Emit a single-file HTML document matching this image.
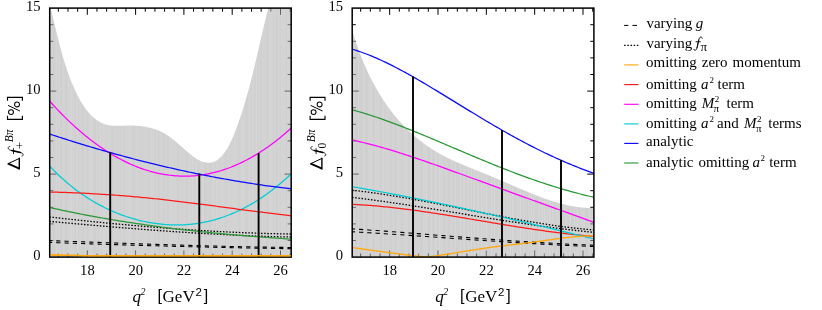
<!DOCTYPE html>
<html><head><meta charset="utf-8"><title>chart</title><style>html,body{margin:0;padding:0;background:#fff;}body{width:822px;height:310px;overflow:hidden;font-family:"Liberation Serif",serif;}</style></head><body>
<svg width="822" height="310" viewBox="0 0 822 310" style="display:block">
<defs>
<pattern id="st1" patternUnits="userSpaceOnUse" x="49.7" y="0" width="241.5" height="310"><rect x="0" y="0" width="241.5" height="310" fill="#acacac" fill-opacity="0.56"/><rect x="1.5" y="0" width="0.8" height="310" fill="#ffffff" fill-opacity="0.16"/><rect x="5.9" y="0" width="1.2" height="310" fill="#ffffff" fill-opacity="0.16"/><rect x="8.9" y="0" width="1.0" height="310" fill="#ffffff" fill-opacity="0.16"/><rect x="13.3" y="0" width="1.0" height="310" fill="#ffffff" fill-opacity="0.16"/><rect x="18.5" y="0" width="1.2" height="310" fill="#ffffff" fill-opacity="0.16"/><rect x="20.9" y="0" width="1.2" height="310" fill="#ffffff" fill-opacity="0.16"/><rect x="23.3" y="0" width="1.0" height="310" fill="#ffffff" fill-opacity="0.16"/><rect x="26.9" y="0" width="1.2" height="310" fill="#ffffff" fill-opacity="0.16"/><rect x="29.9" y="0" width="0.8" height="310" fill="#ffffff" fill-opacity="0.16"/><rect x="35.1" y="0" width="1.0" height="310" fill="#ffffff" fill-opacity="0.16"/><rect x="39.5" y="0" width="1.2" height="310" fill="#ffffff" fill-opacity="0.16"/><rect x="41.9" y="0" width="1.0" height="310" fill="#ffffff" fill-opacity="0.16"/><rect x="47.1" y="0" width="0.8" height="310" fill="#ffffff" fill-opacity="0.16"/><rect x="50.1" y="0" width="1.2" height="310" fill="#ffffff" fill-opacity="0.16"/><rect x="53.1" y="0" width="1.2" height="310" fill="#ffffff" fill-opacity="0.16"/><rect x="55.5" y="0" width="1.2" height="310" fill="#ffffff" fill-opacity="0.16"/><rect x="57.9" y="0" width="1.2" height="310" fill="#ffffff" fill-opacity="0.16"/><rect x="60.3" y="0" width="0.8" height="310" fill="#ffffff" fill-opacity="0.16"/><rect x="64.7" y="0" width="0.8" height="310" fill="#ffffff" fill-opacity="0.16"/><rect x="68.3" y="0" width="0.8" height="310" fill="#ffffff" fill-opacity="0.16"/><rect x="71.9" y="0" width="1.0" height="310" fill="#ffffff" fill-opacity="0.16"/><rect x="76.3" y="0" width="1.2" height="310" fill="#ffffff" fill-opacity="0.16"/><rect x="78.7" y="0" width="1.2" height="310" fill="#ffffff" fill-opacity="0.16"/><rect x="81.1" y="0" width="1.0" height="310" fill="#ffffff" fill-opacity="0.16"/><rect x="86.3" y="0" width="1.2" height="310" fill="#ffffff" fill-opacity="0.16"/><rect x="88.7" y="0" width="0.8" height="310" fill="#ffffff" fill-opacity="0.16"/><rect x="92.3" y="0" width="0.8" height="310" fill="#ffffff" fill-opacity="0.16"/><rect x="94.7" y="0" width="0.8" height="310" fill="#ffffff" fill-opacity="0.16"/><rect x="97.1" y="0" width="0.8" height="310" fill="#ffffff" fill-opacity="0.16"/><rect x="100.7" y="0" width="1.2" height="310" fill="#ffffff" fill-opacity="0.16"/><rect x="103.1" y="0" width="1.2" height="310" fill="#ffffff" fill-opacity="0.16"/><rect x="106.7" y="0" width="1.0" height="310" fill="#ffffff" fill-opacity="0.16"/><rect x="111.1" y="0" width="1.0" height="310" fill="#ffffff" fill-opacity="0.16"/><rect x="115.5" y="0" width="1.0" height="310" fill="#ffffff" fill-opacity="0.16"/><rect x="119.9" y="0" width="1.2" height="310" fill="#ffffff" fill-opacity="0.16"/><rect x="122.3" y="0" width="1.2" height="310" fill="#ffffff" fill-opacity="0.16"/><rect x="125.3" y="0" width="1.0" height="310" fill="#ffffff" fill-opacity="0.16"/><rect x="130.5" y="0" width="0.8" height="310" fill="#ffffff" fill-opacity="0.16"/><rect x="134.1" y="0" width="1.2" height="310" fill="#ffffff" fill-opacity="0.16"/><rect x="139.3" y="0" width="1.2" height="310" fill="#ffffff" fill-opacity="0.16"/><rect x="142.3" y="0" width="1.2" height="310" fill="#ffffff" fill-opacity="0.16"/><rect x="145.9" y="0" width="1.2" height="310" fill="#ffffff" fill-opacity="0.16"/><rect x="150.3" y="0" width="1.2" height="310" fill="#ffffff" fill-opacity="0.16"/><rect x="152.7" y="0" width="1.2" height="310" fill="#ffffff" fill-opacity="0.16"/><rect x="157.9" y="0" width="0.8" height="310" fill="#ffffff" fill-opacity="0.16"/><rect x="163.1" y="0" width="1.2" height="310" fill="#ffffff" fill-opacity="0.16"/><rect x="166.7" y="0" width="1.0" height="310" fill="#ffffff" fill-opacity="0.16"/><rect x="169.1" y="0" width="0.8" height="310" fill="#ffffff" fill-opacity="0.16"/><rect x="171.5" y="0" width="1.2" height="310" fill="#ffffff" fill-opacity="0.16"/><rect x="173.9" y="0" width="0.8" height="310" fill="#ffffff" fill-opacity="0.16"/><rect x="177.5" y="0" width="0.8" height="310" fill="#ffffff" fill-opacity="0.16"/><rect x="179.9" y="0" width="0.8" height="310" fill="#ffffff" fill-opacity="0.16"/><rect x="182.3" y="0" width="1.0" height="310" fill="#ffffff" fill-opacity="0.16"/><rect x="184.7" y="0" width="1.0" height="310" fill="#ffffff" fill-opacity="0.16"/><rect x="187.1" y="0" width="0.8" height="310" fill="#ffffff" fill-opacity="0.16"/><rect x="191.5" y="0" width="1.2" height="310" fill="#ffffff" fill-opacity="0.16"/><rect x="193.9" y="0" width="1.0" height="310" fill="#ffffff" fill-opacity="0.16"/><rect x="199.1" y="0" width="1.2" height="310" fill="#ffffff" fill-opacity="0.16"/><rect x="202.7" y="0" width="1.2" height="310" fill="#ffffff" fill-opacity="0.16"/><rect x="206.3" y="0" width="1.2" height="310" fill="#ffffff" fill-opacity="0.16"/><rect x="209.3" y="0" width="0.8" height="310" fill="#ffffff" fill-opacity="0.16"/><rect x="212.9" y="0" width="0.8" height="310" fill="#ffffff" fill-opacity="0.16"/><rect x="215.3" y="0" width="0.8" height="310" fill="#ffffff" fill-opacity="0.16"/><rect x="219.7" y="0" width="1.2" height="310" fill="#ffffff" fill-opacity="0.16"/><rect x="222.1" y="0" width="0.8" height="310" fill="#ffffff" fill-opacity="0.16"/><rect x="224.5" y="0" width="1.0" height="310" fill="#ffffff" fill-opacity="0.16"/><rect x="228.9" y="0" width="1.0" height="310" fill="#ffffff" fill-opacity="0.16"/><rect x="231.9" y="0" width="1.2" height="310" fill="#ffffff" fill-opacity="0.16"/><rect x="234.3" y="0" width="1.0" height="310" fill="#ffffff" fill-opacity="0.16"/><rect x="237.9" y="0" width="1.0" height="310" fill="#ffffff" fill-opacity="0.16"/><rect x="240.9" y="0" width="1.0" height="310" fill="#ffffff" fill-opacity="0.16"/></pattern>
<pattern id="st2" patternUnits="userSpaceOnUse" x="352.2" y="0" width="241.7" height="310"><rect x="0" y="0" width="241.7" height="310" fill="#acacac" fill-opacity="0.56"/><rect x="1.5" y="0" width="1.0" height="310" fill="#ffffff" fill-opacity="0.16"/><rect x="5.9" y="0" width="1.0" height="310" fill="#ffffff" fill-opacity="0.16"/><rect x="11.1" y="0" width="1.2" height="310" fill="#ffffff" fill-opacity="0.16"/><rect x="16.3" y="0" width="1.2" height="310" fill="#ffffff" fill-opacity="0.16"/><rect x="18.7" y="0" width="1.2" height="310" fill="#ffffff" fill-opacity="0.16"/><rect x="23.1" y="0" width="1.0" height="310" fill="#ffffff" fill-opacity="0.16"/><rect x="25.5" y="0" width="1.2" height="310" fill="#ffffff" fill-opacity="0.16"/><rect x="30.7" y="0" width="1.2" height="310" fill="#ffffff" fill-opacity="0.16"/><rect x="33.7" y="0" width="1.0" height="310" fill="#ffffff" fill-opacity="0.16"/><rect x="36.1" y="0" width="1.0" height="310" fill="#ffffff" fill-opacity="0.16"/><rect x="40.5" y="0" width="1.0" height="310" fill="#ffffff" fill-opacity="0.16"/><rect x="44.9" y="0" width="1.0" height="310" fill="#ffffff" fill-opacity="0.16"/><rect x="47.3" y="0" width="1.0" height="310" fill="#ffffff" fill-opacity="0.16"/><rect x="51.7" y="0" width="1.0" height="310" fill="#ffffff" fill-opacity="0.16"/><rect x="54.1" y="0" width="1.0" height="310" fill="#ffffff" fill-opacity="0.16"/><rect x="58.5" y="0" width="1.2" height="310" fill="#ffffff" fill-opacity="0.16"/><rect x="63.7" y="0" width="0.8" height="310" fill="#ffffff" fill-opacity="0.16"/><rect x="66.1" y="0" width="1.2" height="310" fill="#ffffff" fill-opacity="0.16"/><rect x="71.3" y="0" width="1.0" height="310" fill="#ffffff" fill-opacity="0.16"/><rect x="73.7" y="0" width="1.0" height="310" fill="#ffffff" fill-opacity="0.16"/><rect x="78.9" y="0" width="1.0" height="310" fill="#ffffff" fill-opacity="0.16"/><rect x="83.3" y="0" width="1.2" height="310" fill="#ffffff" fill-opacity="0.16"/><rect x="86.9" y="0" width="1.2" height="310" fill="#ffffff" fill-opacity="0.16"/><rect x="89.3" y="0" width="0.8" height="310" fill="#ffffff" fill-opacity="0.16"/><rect x="93.7" y="0" width="0.8" height="310" fill="#ffffff" fill-opacity="0.16"/><rect x="98.9" y="0" width="0.8" height="310" fill="#ffffff" fill-opacity="0.16"/><rect x="102.5" y="0" width="1.0" height="310" fill="#ffffff" fill-opacity="0.16"/><rect x="107.7" y="0" width="1.0" height="310" fill="#ffffff" fill-opacity="0.16"/><rect x="111.3" y="0" width="1.2" height="310" fill="#ffffff" fill-opacity="0.16"/><rect x="115.7" y="0" width="1.0" height="310" fill="#ffffff" fill-opacity="0.16"/><rect x="118.7" y="0" width="1.0" height="310" fill="#ffffff" fill-opacity="0.16"/><rect x="121.7" y="0" width="1.0" height="310" fill="#ffffff" fill-opacity="0.16"/><rect x="125.3" y="0" width="1.2" height="310" fill="#ffffff" fill-opacity="0.16"/><rect x="128.9" y="0" width="1.0" height="310" fill="#ffffff" fill-opacity="0.16"/><rect x="131.3" y="0" width="0.8" height="310" fill="#ffffff" fill-opacity="0.16"/><rect x="133.7" y="0" width="1.2" height="310" fill="#ffffff" fill-opacity="0.16"/><rect x="138.9" y="0" width="1.2" height="310" fill="#ffffff" fill-opacity="0.16"/><rect x="141.9" y="0" width="1.0" height="310" fill="#ffffff" fill-opacity="0.16"/><rect x="146.3" y="0" width="0.8" height="310" fill="#ffffff" fill-opacity="0.16"/><rect x="151.5" y="0" width="1.0" height="310" fill="#ffffff" fill-opacity="0.16"/><rect x="154.5" y="0" width="1.0" height="310" fill="#ffffff" fill-opacity="0.16"/><rect x="157.5" y="0" width="1.2" height="310" fill="#ffffff" fill-opacity="0.16"/><rect x="159.9" y="0" width="1.2" height="310" fill="#ffffff" fill-opacity="0.16"/><rect x="165.1" y="0" width="0.8" height="310" fill="#ffffff" fill-opacity="0.16"/><rect x="167.5" y="0" width="1.2" height="310" fill="#ffffff" fill-opacity="0.16"/><rect x="171.1" y="0" width="1.0" height="310" fill="#ffffff" fill-opacity="0.16"/><rect x="176.3" y="0" width="0.8" height="310" fill="#ffffff" fill-opacity="0.16"/><rect x="178.7" y="0" width="0.8" height="310" fill="#ffffff" fill-opacity="0.16"/><rect x="181.1" y="0" width="1.0" height="310" fill="#ffffff" fill-opacity="0.16"/><rect x="186.3" y="0" width="1.2" height="310" fill="#ffffff" fill-opacity="0.16"/><rect x="189.3" y="0" width="1.2" height="310" fill="#ffffff" fill-opacity="0.16"/><rect x="191.7" y="0" width="1.0" height="310" fill="#ffffff" fill-opacity="0.16"/><rect x="194.7" y="0" width="0.8" height="310" fill="#ffffff" fill-opacity="0.16"/><rect x="197.1" y="0" width="1.2" height="310" fill="#ffffff" fill-opacity="0.16"/><rect x="200.1" y="0" width="1.0" height="310" fill="#ffffff" fill-opacity="0.16"/><rect x="204.5" y="0" width="0.8" height="310" fill="#ffffff" fill-opacity="0.16"/><rect x="208.1" y="0" width="1.0" height="310" fill="#ffffff" fill-opacity="0.16"/><rect x="213.3" y="0" width="0.8" height="310" fill="#ffffff" fill-opacity="0.16"/><rect x="217.7" y="0" width="1.0" height="310" fill="#ffffff" fill-opacity="0.16"/><rect x="222.1" y="0" width="0.8" height="310" fill="#ffffff" fill-opacity="0.16"/><rect x="224.5" y="0" width="1.0" height="310" fill="#ffffff" fill-opacity="0.16"/><rect x="228.9" y="0" width="1.0" height="310" fill="#ffffff" fill-opacity="0.16"/><rect x="231.3" y="0" width="1.0" height="310" fill="#ffffff" fill-opacity="0.16"/><rect x="236.5" y="0" width="1.0" height="310" fill="#ffffff" fill-opacity="0.16"/><rect x="240.1" y="0" width="1.0" height="310" fill="#ffffff" fill-opacity="0.16"/></pattern>
<clipPath id="c1"><rect x="49.7" y="8.1" width="241.5" height="249.0"/></clipPath>
<clipPath id="c2"><rect x="352.2" y="8.1" width="241.7" height="249.0"/></clipPath>
</defs>
<rect width="822" height="310" fill="#fff"/>
<path d="M58.32,257.1 v-3.6 M58.32,8.1 v3.6 M67.98,257.1 v-3.6 M67.98,8.1 v3.6 M77.64,257.1 v-3.6 M77.64,8.1 v3.6 M87.30,257.1 v-6.7 M87.30,8.1 v6.7 M96.96,257.1 v-3.6 M96.96,8.1 v3.6 M106.62,257.1 v-3.6 M106.62,8.1 v3.6 M116.28,257.1 v-3.6 M116.28,8.1 v3.6 M125.94,257.1 v-3.6 M125.94,8.1 v3.6 M135.60,257.1 v-6.7 M135.60,8.1 v6.7 M145.26,257.1 v-3.6 M145.26,8.1 v3.6 M154.92,257.1 v-3.6 M154.92,8.1 v3.6 M164.58,257.1 v-3.6 M164.58,8.1 v3.6 M174.24,257.1 v-3.6 M174.24,8.1 v3.6 M183.90,257.1 v-6.7 M183.90,8.1 v6.7 M193.56,257.1 v-3.6 M193.56,8.1 v3.6 M203.22,257.1 v-3.6 M203.22,8.1 v3.6 M212.88,257.1 v-3.6 M212.88,8.1 v3.6 M222.54,257.1 v-3.6 M222.54,8.1 v3.6 M232.20,257.1 v-6.7 M232.20,8.1 v6.7 M241.86,257.1 v-3.6 M241.86,8.1 v3.6 M251.52,257.1 v-3.6 M251.52,8.1 v3.6 M261.18,257.1 v-3.6 M261.18,8.1 v3.6 M270.84,257.1 v-3.6 M270.84,8.1 v3.6 M280.50,257.1 v-6.7 M280.50,8.1 v6.7 M290.16,257.1 v-3.6 M290.16,8.1 v3.6 M49.7,240.50 h3.6 M291.2,240.50 h-3.6 M49.7,223.90 h3.6 M291.2,223.90 h-3.6 M49.7,207.30 h3.6 M291.2,207.30 h-3.6 M49.7,190.70 h3.6 M291.2,190.70 h-3.6 M49.7,174.10 h6.7 M291.2,174.10 h-6.7 M49.7,157.50 h3.6 M291.2,157.50 h-3.6 M49.7,140.90 h3.6 M291.2,140.90 h-3.6 M49.7,124.30 h3.6 M291.2,124.30 h-3.6 M49.7,107.70 h3.6 M291.2,107.70 h-3.6 M49.7,91.10 h6.7 M291.2,91.10 h-6.7 M49.7,74.50 h3.6 M291.2,74.50 h-3.6 M49.7,57.90 h3.6 M291.2,57.90 h-3.6 M49.7,41.30 h3.6 M291.2,41.30 h-3.6 M49.7,24.70 h3.6 M291.2,24.70 h-3.6" stroke="#000" stroke-width="1" fill="none"/>
<g clip-path="url(#c1)">
<path d="M49.89,5.41 L50.27,6.85 L50.64,8.29 L51.01,9.72 L51.37,11.15 L51.73,12.57 L52.09,13.99 L52.44,15.40 L52.79,16.80 L53.13,18.21 L53.47,19.60 L53.81,21.00 L54.15,22.38 L54.48,23.77 L54.82,25.15 L55.15,26.53 L55.48,27.90 L55.81,29.27 L56.14,30.64 L56.47,32.01 L56.80,33.37 L57.13,34.73 L57.46,36.08 L57.79,37.43 L58.13,38.79 L58.46,40.13 L58.80,41.48 L59.14,42.83 L59.48,44.17 L59.83,45.51 L60.18,46.85 L60.53,48.19 L60.89,49.53 L61.25,50.86 L61.61,52.20 L61.98,53.53 L62.35,54.87 L62.73,56.20 L63.12,57.53 L63.51,58.87 L63.91,60.20 L64.31,61.53 L64.72,62.87 L65.14,64.20 L65.57,65.53 L66.00,66.87 L66.45,68.21 L66.90,69.54 L67.35,70.88 L67.82,72.22 L68.30,73.56 L68.79,74.91 L69.28,76.25 L69.79,77.60 L70.31,78.94 L70.84,80.30 L71.38,81.65 L71.93,83.00 L72.49,84.36 L73.07,85.72 L73.65,87.09 L74.25,88.45 L74.87,89.81 L75.49,91.17 L76.13,92.52 L76.79,93.87 L77.45,95.21 L78.14,96.54 L78.83,97.87 L79.54,99.18 L80.27,100.47 L81.02,101.75 L81.77,103.02 L82.55,104.26 L83.34,105.49 L84.15,106.70 L84.98,107.88 L85.82,109.04 L86.68,110.17 L87.56,111.28 L88.46,112.35 L89.38,113.40 L90.31,114.41 L91.27,115.39 L92.24,116.34 L93.24,117.25 L94.25,118.12 L95.29,118.95 L96.35,119.75 L97.43,120.49 L98.52,121.20 L99.65,121.86 L100.79,122.47 L101.95,123.03 L103.14,123.54 L104.35,124.00 L105.59,124.41 L106.85,124.77 L108.13,125.06 L109.43,125.30 L110.76,125.49 L112.11,125.63 L113.48,125.73 L114.87,125.79 L116.27,125.83 L117.70,125.83 L119.13,125.81 L120.58,125.78 L122.04,125.74 L123.51,125.69 L124.98,125.64 L126.47,125.60 L127.96,125.56 L129.46,125.54 L130.96,125.54 L132.46,125.56 L133.96,125.61 L135.46,125.68 L136.95,125.77 L138.45,125.89 L139.93,126.03 L141.42,126.20 L142.89,126.39 L144.35,126.61 L145.81,126.86 L147.25,127.14 L148.67,127.44 L150.09,127.77 L151.48,128.12 L152.86,128.51 L154.22,128.92 L155.56,129.37 L156.87,129.84 L158.17,130.35 L159.43,130.88 L160.68,131.45 L161.89,132.05 L163.09,132.67 L164.26,133.33 L165.41,134.01 L166.55,134.72 L167.67,135.46 L168.78,136.21 L169.87,137.00 L170.96,137.80 L172.04,138.63 L173.11,139.47 L174.18,140.34 L175.25,141.22 L176.32,142.12 L177.38,143.03 L178.46,143.97 L179.54,144.91 L180.62,145.87 L181.72,146.84 L182.82,147.82 L183.94,148.81 L185.08,149.81 L186.23,150.82 L187.40,151.83 L188.59,152.83 L189.79,153.83 L191.01,154.80 L192.24,155.76 L193.48,156.68 L194.74,157.56 L196.01,158.39 L197.28,159.17 L198.57,159.90 L199.87,160.55 L201.17,161.13 L202.48,161.63 L203.79,162.04 L205.10,162.37 L206.40,162.60 L207.70,162.74 L208.98,162.79 L210.23,162.73 L211.47,162.57 L212.68,162.30 L213.85,161.92 L214.99,161.42 L216.09,160.83 L217.16,160.14 L218.19,159.37 L219.19,158.53 L220.16,157.62 L221.10,156.65 L222.02,155.64 L222.90,154.60 L223.75,153.52 L224.58,152.41 L225.38,151.27 L226.16,150.10 L226.91,148.90 L227.65,147.68 L228.36,146.44 L229.05,145.18 L229.72,143.89 L230.37,142.59 L231.00,141.27 L231.62,139.94 L232.22,138.60 L232.81,137.24 L233.39,135.87 L233.95,134.50 L234.50,133.12 L235.04,131.74 L235.57,130.35 L236.09,128.96 L236.61,127.58 L237.12,126.19 L237.62,124.81 L238.11,123.42 L238.60,122.04 L239.09,120.67 L239.56,119.29 L240.03,117.91 L240.49,116.54 L240.95,115.16 L241.40,113.79 L241.85,112.42 L242.29,111.05 L242.73,109.68 L243.16,108.31 L243.58,106.95 L244.00,105.58 L244.42,104.22 L244.83,102.85 L245.23,101.49 L245.63,100.13 L246.03,98.76 L246.42,97.40 L246.81,96.04 L247.20,94.68 L247.58,93.32 L247.95,91.97 L248.32,90.61 L248.69,89.25 L249.06,87.89 L249.42,86.53 L249.78,85.18 L250.13,83.82 L250.48,82.46 L250.83,81.11 L251.18,79.75 L251.52,78.40 L251.87,77.04 L252.20,75.68 L252.54,74.33 L252.88,72.97 L253.21,71.61 L253.54,70.25 L253.87,68.90 L254.19,67.54 L254.52,66.18 L254.84,64.82 L255.16,63.46 L255.48,62.10 L255.80,60.74 L256.12,59.38 L256.44,58.02 L256.76,56.66 L257.07,55.30 L257.39,53.93 L257.70,52.57 L258.02,51.20 L258.33,49.84 L258.65,48.47 L258.96,47.10 L259.28,45.73 L259.59,44.36 L259.91,42.99 L260.23,41.61 L260.54,40.24 L260.86,38.86 L261.18,37.49 L261.50,36.11 L261.82,34.73 L262.14,33.34 L262.46,31.96 L262.79,30.58 L263.11,29.19 L263.44,27.80 L263.77,26.41 L264.10,25.02 L264.43,23.63 L264.77,22.23 L265.11,20.83 L265.45,19.43 L265.79,18.03 L266.14,16.63 L266.49,15.22 L266.84,13.82 L267.19,12.41 L267.55,10.99 L267.91,9.58 L268.27,8.16 L268.64,6.74 L269.01,5.32 L291.2,5.32 L291.2,257.1 L49.7,257.1 Z" fill="url(#st1)"/>
</g>
<g clip-path="url(#c1)" fill="none" stroke-linecap="butt">
<path d="M49.30,240.59 L53.41,240.74 L57.52,240.89 L61.64,241.05 L65.75,241.20 L69.86,241.35 L73.97,241.50 L78.08,241.66 L82.19,241.81 L86.31,241.96 L90.42,242.11 L94.53,242.26 L98.64,242.41 L102.75,242.56 L106.87,242.70 L110.98,242.85 L115.09,243.00 L119.20,243.14 L123.31,243.29 L127.43,243.43 L131.54,243.57 L135.65,243.71 L139.76,243.85 L143.87,243.99 L147.98,244.13 L152.10,244.26 L156.21,244.39 L160.32,244.53 L164.43,244.66 L168.54,244.78 L172.66,244.91 L176.77,245.04 L180.88,245.16 L184.99,245.28 L189.10,245.40 L193.22,245.51 L197.33,245.63 L201.44,245.74 L205.55,245.85 L209.66,245.96 L213.77,246.06 L217.89,246.17 L222.00,246.27 L226.11,246.36 L230.22,246.46 L234.33,246.55 L238.45,246.64 L242.56,246.73 L246.67,246.81 L250.78,246.89 L254.89,246.97 L259.01,247.04 L263.12,247.11 L267.23,247.18 L271.34,247.25 L275.45,247.31 L279.56,247.36 L283.68,247.42 L287.79,247.47 L291.90,247.52" stroke="#000" stroke-width="1.1" stroke-dasharray="4.2 4.06" stroke-dashoffset="1.3"/>
<path d="M49.30,242.40 L53.41,242.55 L57.52,242.70 L61.64,242.84 L65.75,242.99 L69.86,243.13 L73.97,243.27 L78.08,243.42 L82.19,243.55 L86.31,243.69 L90.42,243.83 L94.53,243.96 L98.64,244.10 L102.75,244.23 L106.87,244.36 L110.98,244.49 L115.09,244.62 L119.20,244.74 L123.31,244.87 L127.43,244.99 L131.54,245.12 L135.65,245.24 L139.76,245.36 L143.87,245.47 L147.98,245.59 L152.10,245.71 L156.21,245.82 L160.32,245.93 L164.43,246.04 L168.54,246.15 L172.66,246.26 L176.77,246.37 L180.88,246.47 L184.99,246.57 L189.10,246.68 L193.22,246.78 L197.33,246.88 L201.44,246.97 L205.55,247.07 L209.66,247.16 L213.77,247.26 L217.89,247.35 L222.00,247.44 L226.11,247.53 L230.22,247.61 L234.33,247.70 L238.45,247.78 L242.56,247.86 L246.67,247.94 L250.78,248.02 L254.89,248.10 L259.01,248.18 L263.12,248.25 L267.23,248.33 L271.34,248.40 L275.45,248.47 L279.56,248.53 L283.68,248.60 L287.79,248.67 L291.90,248.73" stroke="#000" stroke-width="1.1" stroke-dasharray="4.2 4.06" stroke-dashoffset="1.3"/>
<path d="M49.30,216.94 L53.41,217.41 L57.52,217.87 L61.64,218.33 L65.75,218.78 L69.86,219.23 L73.97,219.67 L78.08,220.11 L82.19,220.54 L86.31,220.97 L90.42,221.39 L94.53,221.81 L98.64,222.22 L102.75,222.62 L106.87,223.03 L110.98,223.42 L115.09,223.81 L119.20,224.19 L123.31,224.57 L127.43,224.94 L131.54,225.31 L135.65,225.67 L139.76,226.02 L143.87,226.37 L147.98,226.71 L152.10,227.04 L156.21,227.37 L160.32,227.69 L164.43,228.01 L168.54,228.31 L172.66,228.61 L176.77,228.91 L180.88,229.20 L184.99,229.48 L189.10,229.75 L193.22,230.02 L197.33,230.28 L201.44,230.53 L205.55,230.77 L209.66,231.01 L213.77,231.24 L217.89,231.46 L222.00,231.67 L226.11,231.88 L230.22,232.08 L234.33,232.27 L238.45,232.45 L242.56,232.62 L246.67,232.79 L250.78,232.94 L254.89,233.09 L259.01,233.23 L263.12,233.37 L267.23,233.49 L271.34,233.60 L275.45,233.71 L279.56,233.81 L283.68,233.90 L287.79,233.98 L291.90,234.05" stroke="#000" stroke-width="1.3" stroke-dasharray="1.5 1.67"/>
<path d="M49.30,221.35 L53.41,221.73 L57.52,222.11 L61.64,222.48 L65.75,222.85 L69.86,223.22 L73.97,223.59 L78.08,223.96 L82.19,224.32 L86.31,224.69 L90.42,225.04 L94.53,225.40 L98.64,225.76 L102.75,226.11 L106.87,226.46 L110.98,226.80 L115.09,227.14 L119.20,227.48 L123.31,227.82 L127.43,228.15 L131.54,228.47 L135.65,228.80 L139.76,229.12 L143.87,229.43 L147.98,229.75 L152.10,230.05 L156.21,230.36 L160.32,230.66 L164.43,230.95 L168.54,231.24 L172.66,231.52 L176.77,231.80 L180.88,232.07 L184.99,232.34 L189.10,232.61 L193.22,232.86 L197.33,233.11 L201.44,233.36 L205.55,233.60 L209.66,233.84 L213.77,234.06 L217.89,234.28 L222.00,234.50 L226.11,234.71 L230.22,234.91 L234.33,235.11 L238.45,235.29 L242.56,235.48 L246.67,235.65 L250.78,235.82 L254.89,235.98 L259.01,236.13 L263.12,236.27 L267.23,236.41 L271.34,236.54 L275.45,236.66 L279.56,236.77 L283.68,236.88 L287.79,236.97 L291.90,237.06" stroke="#000" stroke-width="1.3" stroke-dasharray="1.5 1.67"/>
<path d="M49.30,207.43 L51.34,207.89 L53.38,208.34 L55.42,208.79 L57.45,209.23 L59.49,209.67 L61.53,210.10 L63.57,210.53 L65.61,210.96 L67.65,211.38 L69.69,211.80 L71.73,212.22 L73.76,212.63 L75.80,213.04 L77.84,213.44 L79.88,213.84 L81.92,214.24 L83.96,214.63 L86.00,215.02 L88.03,215.41 L90.07,215.79 L92.11,216.17 L94.15,216.54 L96.19,216.91 L98.23,217.28 L100.27,217.64 L102.31,218.00 L104.34,218.36 L106.38,218.71 L108.42,219.06 L110.46,219.41 L112.50,219.75 L114.54,220.09 L116.58,220.43 L118.61,220.76 L120.65,221.09 L122.69,221.41 L124.73,221.74 L126.77,222.05 L128.81,222.37 L130.85,222.68 L132.88,222.99 L134.92,223.30 L136.96,223.60 L139.00,223.90 L141.04,224.20 L143.08,224.49 L145.12,224.79 L147.16,225.07 L149.19,225.36 L151.23,225.64 L153.27,225.92 L155.31,226.19 L157.35,226.47 L159.39,226.74 L161.43,227.00 L163.46,227.27 L165.50,227.53 L167.54,227.79 L169.58,228.05 L171.62,228.30 L173.66,228.55 L175.70,228.80 L177.74,229.04 L179.77,229.28 L181.81,229.52 L183.85,229.76 L185.89,230.00 L187.93,230.23 L189.97,230.46 L192.01,230.68 L194.04,230.91 L196.08,231.13 L198.12,231.35 L200.16,231.57 L202.20,231.78 L204.24,231.99 L206.28,232.20 L208.32,232.41 L210.35,232.61 L212.39,232.82 L214.43,233.02 L216.47,233.22 L218.51,233.41 L220.55,233.60 L222.59,233.80 L224.62,233.99 L226.66,234.17 L228.70,234.36 L230.74,234.54 L232.78,234.72 L234.82,234.90 L236.86,235.08 L238.89,235.25 L240.93,235.42 L242.97,235.60 L245.01,235.76 L247.05,235.93 L249.09,236.10 L251.13,236.26 L253.17,236.42 L255.20,236.58 L257.24,236.74 L259.28,236.89 L261.32,237.05 L263.36,237.20 L265.40,237.35 L267.44,237.50 L269.47,237.65 L271.51,237.79 L273.55,237.94 L275.59,238.08 L277.63,238.22 L279.67,238.36 L281.71,238.50 L283.75,238.63 L285.78,238.77 L287.82,238.90 L289.86,239.03 L291.90,239.16" stroke="#2a9836" stroke-width="1.25"/>
<path d="M49.30,165.67 L51.34,167.83 L53.38,169.94 L55.42,171.99 L57.46,173.99 L59.50,175.93 L61.54,177.82 L63.58,179.66 L65.62,181.45 L67.66,183.20 L69.69,184.89 L71.73,186.54 L73.77,188.15 L75.81,189.71 L77.85,191.23 L79.89,192.71 L81.93,194.14 L83.97,195.54 L86.01,196.89 L88.05,198.21 L90.09,199.49 L92.13,200.73 L94.17,201.94 L96.21,203.11 L98.25,204.24 L100.29,205.34 L102.33,206.41 L104.37,207.44 L106.41,208.44 L108.45,209.41 L110.48,210.34 L112.52,211.25 L114.56,212.12 L116.60,212.96 L118.64,213.77 L120.68,214.55 L122.72,215.31 L124.76,216.03 L126.80,216.72 L128.84,217.39 L130.88,218.02 L132.92,218.63 L134.96,219.21 L137.00,219.76 L139.04,220.28 L141.08,220.78 L143.12,221.25 L145.16,221.69 L147.20,222.10 L149.24,222.48 L151.27,222.84 L153.31,223.17 L155.35,223.47 L157.39,223.74 L159.43,223.99 L161.47,224.21 L163.51,224.40 L165.55,224.56 L167.59,224.70 L169.63,224.81 L171.67,224.89 L173.71,224.94 L175.75,224.96 L177.79,224.96 L179.83,224.92 L181.87,224.86 L183.91,224.77 L185.95,224.65 L187.99,224.49 L190.03,224.31 L192.06,224.10 L194.10,223.87 L196.14,223.60 L198.18,223.30 L200.22,222.96 L202.26,222.60 L204.30,222.21 L206.34,221.79 L208.38,221.33 L210.42,220.85 L212.46,220.33 L214.50,219.78 L216.54,219.19 L218.58,218.58 L220.62,217.93 L222.66,217.25 L224.70,216.53 L226.74,215.78 L228.78,215.00 L230.82,214.19 L232.85,213.34 L234.89,212.45 L236.93,211.53 L238.97,210.58 L241.01,209.59 L243.05,208.57 L245.09,207.51 L247.13,206.41 L249.17,205.28 L251.21,204.12 L253.25,202.92 L255.29,201.68 L257.33,200.41 L259.37,199.10 L261.41,197.75 L263.45,196.37 L265.49,194.95 L267.53,193.49 L269.57,192.00 L271.61,190.47 L273.64,188.91 L275.68,187.31 L277.72,185.67 L279.76,184.00 L281.80,182.29 L283.84,180.54 L285.88,178.76 L287.92,176.94 L289.96,175.08 L292.00,173.19" stroke="#00cdd4" stroke-width="1.25"/>
<path d="M49.30,191.97 L51.34,192.02 L53.38,192.08 L55.42,192.14 L57.46,192.20 L59.50,192.26 L61.54,192.33 L63.58,192.40 L65.62,192.47 L67.66,192.54 L69.69,192.62 L71.73,192.70 L73.77,192.78 L75.81,192.87 L77.85,192.95 L79.89,193.05 L81.93,193.14 L83.97,193.24 L86.01,193.34 L88.05,193.44 L90.09,193.55 L92.13,193.66 L94.17,193.77 L96.21,193.89 L98.25,194.01 L100.29,194.14 L102.33,194.26 L104.37,194.39 L106.41,194.53 L108.45,194.66 L110.48,194.80 L112.52,194.95 L114.56,195.10 L116.60,195.25 L118.64,195.40 L120.68,195.56 L122.72,195.72 L124.76,195.88 L126.80,196.05 L128.84,196.22 L130.88,196.40 L132.92,196.57 L134.96,196.76 L137.00,196.94 L139.04,197.13 L141.08,197.32 L143.12,197.51 L145.16,197.71 L147.20,197.91 L149.24,198.12 L151.27,198.32 L153.31,198.53 L155.35,198.75 L157.39,198.96 L159.43,199.18 L161.47,199.40 L163.51,199.63 L165.55,199.85 L167.59,200.09 L169.63,200.32 L171.67,200.55 L173.71,200.79 L175.75,201.03 L177.79,201.28 L179.83,201.52 L181.87,201.77 L183.91,202.02 L185.95,202.27 L187.99,202.52 L190.03,202.78 L192.06,203.04 L194.10,203.30 L196.14,203.56 L198.18,203.82 L200.22,204.09 L202.26,204.35 L204.30,204.62 L206.34,204.89 L208.38,205.16 L210.42,205.43 L212.46,205.70 L214.50,205.98 L216.54,206.25 L218.58,206.53 L220.62,206.80 L222.66,207.08 L224.70,207.35 L226.74,207.63 L228.78,207.90 L230.82,208.18 L232.85,208.46 L234.89,208.73 L236.93,209.01 L238.97,209.28 L241.01,209.56 L243.05,209.83 L245.09,210.10 L247.13,210.37 L249.17,210.64 L251.21,210.91 L253.25,211.18 L255.29,211.44 L257.33,211.70 L259.37,211.96 L261.41,212.22 L263.45,212.48 L265.49,212.73 L267.53,212.99 L269.57,213.23 L271.61,213.48 L273.64,213.72 L275.68,213.96 L277.72,214.20 L279.76,214.43 L281.80,214.66 L283.84,214.88 L285.88,215.10 L287.92,215.32 L289.96,215.53 L292.00,215.73" stroke="#ff1a1a" stroke-width="1.25"/>
<path d="M49.30,100.70 L51.34,102.97 L53.38,105.21 L55.42,107.42 L57.46,109.58 L59.50,111.72 L61.54,113.81 L63.58,115.87 L65.62,117.89 L67.66,119.88 L69.69,121.83 L71.73,123.75 L73.77,125.63 L75.81,127.47 L77.85,129.28 L79.89,131.06 L81.93,132.80 L83.97,134.50 L86.01,136.17 L88.05,137.81 L90.09,139.41 L92.13,140.98 L94.17,142.51 L96.21,144.01 L98.25,145.47 L100.29,146.90 L102.33,148.30 L104.37,149.66 L106.41,150.98 L108.45,152.28 L110.48,153.53 L112.52,154.76 L114.56,155.95 L116.60,157.11 L118.64,158.23 L120.68,159.32 L122.72,160.37 L124.76,161.39 L126.80,162.38 L128.84,163.33 L130.88,164.25 L132.92,165.14 L134.96,165.99 L137.00,166.80 L139.04,167.59 L141.08,168.34 L143.12,169.05 L145.16,169.73 L147.20,170.38 L149.24,170.99 L151.27,171.57 L153.31,172.12 L155.35,172.63 L157.39,173.11 L159.43,173.55 L161.47,173.96 L163.51,174.33 L165.55,174.67 L167.59,174.98 L169.63,175.25 L171.67,175.49 L173.71,175.69 L175.75,175.86 L177.79,175.99 L179.83,176.09 L181.87,176.16 L183.91,176.19 L185.95,176.18 L187.99,176.14 L190.03,176.07 L192.06,175.96 L194.10,175.82 L196.14,175.64 L198.18,175.43 L200.22,175.18 L202.26,174.89 L204.30,174.58 L206.34,174.22 L208.38,173.83 L210.42,173.41 L212.46,172.95 L214.50,172.46 L216.54,171.93 L218.58,171.37 L220.62,170.77 L222.66,170.13 L224.70,169.46 L226.74,168.75 L228.78,168.01 L230.82,167.24 L232.85,166.42 L234.89,165.58 L236.93,164.69 L238.97,163.78 L241.01,162.82 L243.05,161.83 L245.09,160.81 L247.13,159.75 L249.17,158.65 L251.21,157.52 L253.25,156.35 L255.29,155.15 L257.33,153.91 L259.37,152.63 L261.41,151.33 L263.45,149.98 L265.49,148.60 L267.53,147.18 L269.57,145.73 L271.61,144.25 L273.64,142.72 L275.68,141.17 L277.72,139.57 L279.76,137.95 L281.80,136.28 L283.84,134.58 L285.88,132.85 L287.92,131.08 L289.96,129.28 L292.00,127.44" stroke="#ff00ff" stroke-width="1.25"/>
<path d="M49.30,133.91 L51.34,134.58 L53.38,135.25 L55.42,135.92 L57.46,136.58 L59.50,137.24 L61.54,137.90 L63.58,138.56 L65.62,139.21 L67.66,139.85 L69.69,140.50 L71.73,141.14 L73.77,141.78 L75.81,142.41 L77.85,143.04 L79.89,143.67 L81.93,144.29 L83.97,144.91 L86.01,145.53 L88.05,146.14 L90.09,146.75 L92.13,147.36 L94.17,147.96 L96.21,148.56 L98.25,149.15 L100.29,149.74 L102.33,150.33 L104.37,150.92 L106.41,151.50 L108.45,152.08 L110.48,152.65 L112.52,153.22 L114.56,153.79 L116.60,154.35 L118.64,154.91 L120.68,155.47 L122.72,156.02 L124.76,156.57 L126.80,157.12 L128.84,157.66 L130.88,158.20 L132.92,158.74 L134.96,159.27 L137.00,159.80 L139.04,160.32 L141.08,160.84 L143.12,161.36 L145.16,161.87 L147.20,162.38 L149.24,162.89 L151.27,163.39 L153.31,163.89 L155.35,164.39 L157.39,164.88 L159.43,165.37 L161.47,165.85 L163.51,166.33 L165.55,166.81 L167.59,167.28 L169.63,167.75 L171.67,168.22 L173.71,168.68 L175.75,169.14 L177.79,169.59 L179.83,170.04 L181.87,170.49 L183.91,170.93 L185.95,171.37 L187.99,171.81 L190.03,172.24 L192.06,172.67 L194.10,173.10 L196.14,173.52 L198.18,173.93 L200.22,174.35 L202.26,174.76 L204.30,175.16 L206.34,175.57 L208.38,175.96 L210.42,176.36 L212.46,176.75 L214.50,177.14 L216.54,177.52 L218.58,177.90 L220.62,178.27 L222.66,178.64 L224.70,179.01 L226.74,179.38 L228.78,179.74 L230.82,180.09 L232.85,180.44 L234.89,180.79 L236.93,181.14 L238.97,181.48 L241.01,181.81 L243.05,182.15 L245.09,182.48 L247.13,182.80 L249.17,183.12 L251.21,183.44 L253.25,183.75 L255.29,184.06 L257.33,184.37 L259.37,184.67 L261.41,184.96 L263.45,185.26 L265.49,185.55 L267.53,185.83 L269.57,186.11 L271.61,186.39 L273.64,186.67 L275.68,186.93 L277.72,187.20 L279.76,187.46 L281.80,187.72 L283.84,187.97 L285.88,188.22 L287.92,188.47 L289.96,188.71 L292.00,188.95" stroke="#0c0cff" stroke-width="1.25"/>
<path d="M49.30,254.99 L53.41,255.08 L57.53,255.16 L61.64,255.25 L65.75,255.32 L69.87,255.40 L73.98,255.47 L78.09,255.54 L82.21,255.61 L86.32,255.66 L90.44,255.70 L94.55,255.73 L98.66,255.76 L102.78,255.78 L106.89,255.80 L111.00,255.80 L115.12,255.80 L119.23,255.80 L123.34,255.80 L127.46,255.80 L131.57,255.80 L135.68,255.80 L139.80,255.80 L143.91,255.80 L148.03,255.80 L152.14,255.80 L156.25,255.80 L160.37,255.80 L164.48,255.80 L168.59,255.80 L172.71,255.80 L176.82,255.80 L180.93,255.80 L185.05,255.80 L189.16,255.80 L193.27,255.80 L197.39,255.80 L201.50,255.80 L205.62,255.80 L209.73,255.80 L213.84,255.80 L217.96,255.80 L222.07,255.80 L226.18,255.80 L230.30,255.80 L234.41,255.80 L238.52,255.80 L242.64,255.80 L246.75,255.80 L250.86,255.80 L254.98,255.80 L259.09,255.80 L263.21,255.80 L267.32,255.80 L271.43,255.80 L275.55,255.80 L279.66,255.80 L283.77,255.80 L287.89,255.80 L292.00,255.80" stroke="#ffa810" stroke-width="1.35"/>
</g>
<path d="M110.20,257.1 V152.30" stroke="#000" stroke-width="1.9" fill="none"/>
<path d="M199.30,257.1 V173.60" stroke="#000" stroke-width="1.9" fill="none"/>
<path d="M258.60,257.1 V153.10" stroke="#000" stroke-width="1.9" fill="none"/>
<rect x="49.7" y="8.1" width="241.50" height="249.00" fill="none" stroke="#000" stroke-width="1.5"/>
<path d="M360.65,257.1 v-3.6 M360.65,8.1 v3.6 M370.31,257.1 v-3.6 M370.31,8.1 v3.6 M379.98,257.1 v-3.6 M379.98,8.1 v3.6 M389.65,257.1 v-6.7 M389.65,8.1 v6.7 M399.32,257.1 v-3.6 M399.32,8.1 v3.6 M408.99,257.1 v-3.6 M408.99,8.1 v3.6 M418.65,257.1 v-3.6 M418.65,8.1 v3.6 M428.32,257.1 v-3.6 M428.32,8.1 v3.6 M437.99,257.1 v-6.7 M437.99,8.1 v6.7 M447.66,257.1 v-3.6 M447.66,8.1 v3.6 M457.33,257.1 v-3.6 M457.33,8.1 v3.6 M466.99,257.1 v-3.6 M466.99,8.1 v3.6 M476.66,257.1 v-3.6 M476.66,8.1 v3.6 M486.33,257.1 v-6.7 M486.33,8.1 v6.7 M496.00,257.1 v-3.6 M496.00,8.1 v3.6 M505.67,257.1 v-3.6 M505.67,8.1 v3.6 M515.33,257.1 v-3.6 M515.33,8.1 v3.6 M525.00,257.1 v-3.6 M525.00,8.1 v3.6 M534.67,257.1 v-6.7 M534.67,8.1 v6.7 M544.34,257.1 v-3.6 M544.34,8.1 v3.6 M554.01,257.1 v-3.6 M554.01,8.1 v3.6 M563.67,257.1 v-3.6 M563.67,8.1 v3.6 M573.34,257.1 v-3.6 M573.34,8.1 v3.6 M583.01,257.1 v-6.7 M583.01,8.1 v6.7 M592.68,257.1 v-3.6 M592.68,8.1 v3.6 M352.2,240.50 h3.6 M593.9,240.50 h-3.6 M352.2,223.90 h3.6 M593.9,223.90 h-3.6 M352.2,207.30 h3.6 M593.9,207.30 h-3.6 M352.2,190.70 h3.6 M593.9,190.70 h-3.6 M352.2,174.10 h6.7 M593.9,174.10 h-6.7 M352.2,157.50 h3.6 M593.9,157.50 h-3.6 M352.2,140.90 h3.6 M593.9,140.90 h-3.6 M352.2,124.30 h3.6 M593.9,124.30 h-3.6 M352.2,107.70 h3.6 M593.9,107.70 h-3.6 M352.2,91.10 h6.7 M593.9,91.10 h-6.7 M352.2,74.50 h3.6 M593.9,74.50 h-3.6 M352.2,57.90 h3.6 M593.9,57.90 h-3.6 M352.2,41.30 h3.6 M593.9,41.30 h-3.6 M352.2,24.70 h3.6 M593.9,24.70 h-3.6" stroke="#000" stroke-width="1" fill="none"/>
<g clip-path="url(#c2)">
<path d="M352.77,32.21 L353.07,33.22 L353.38,34.22 L353.69,35.23 L354.01,36.24 L354.33,37.24 L354.65,38.25 L354.98,39.25 L355.31,40.25 L355.64,41.26 L355.98,42.26 L356.32,43.26 L356.66,44.27 L357.01,45.27 L357.36,46.27 L357.71,47.27 L358.07,48.27 L358.43,49.27 L358.80,50.27 L359.16,51.26 L359.54,52.26 L359.91,53.26 L360.29,54.25 L360.67,55.24 L361.06,56.24 L361.45,57.23 L361.85,58.22 L362.24,59.21 L362.65,60.19 L363.05,61.18 L363.46,62.16 L363.88,63.15 L364.29,64.13 L364.72,65.11 L365.14,66.09 L365.57,67.06 L366.00,68.04 L366.44,69.01 L366.88,69.98 L367.33,70.95 L367.78,71.92 L368.23,72.89 L368.69,73.85 L369.15,74.82 L369.61,75.78 L370.08,76.73 L370.56,77.69 L371.04,78.64 L371.52,79.60 L372.01,80.55 L372.50,81.49 L372.99,82.44 L373.49,83.38 L374.00,84.32 L374.50,85.26 L375.02,86.19 L375.53,87.12 L376.06,88.05 L376.58,88.98 L377.11,89.90 L377.65,90.83 L378.19,91.74 L378.73,92.66 L379.28,93.57 L379.83,94.48 L380.39,95.39 L380.95,96.29 L381.52,97.19 L382.09,98.09 L382.66,98.99 L383.24,99.88 L383.83,100.76 L384.42,101.65 L385.01,102.53 L385.61,103.41 L386.22,104.28 L386.82,105.15 L387.44,106.02 L388.06,106.88 L388.68,107.74 L389.31,108.60 L389.94,109.45 L390.58,110.30 L391.22,111.14 L391.87,111.98 L392.52,112.82 L393.18,113.65 L393.84,114.48 L394.51,115.31 L395.18,116.13 L395.86,116.94 L396.54,117.75 L397.23,118.56 L397.92,119.37 L398.62,120.16 L399.32,120.96 L400.03,121.75 L400.75,122.53 L401.46,123.32 L402.19,124.09 L402.92,124.86 L403.65,125.63 L404.39,126.39 L405.13,127.15 L405.88,127.90 L406.64,128.65 L407.39,129.39 L408.16,130.13 L408.93,130.87 L409.70,131.59 L410.48,132.32 L411.26,133.03 L412.04,133.75 L412.84,134.45 L413.63,135.16 L414.43,135.85 L415.23,136.54 L416.04,137.23 L416.86,137.91 L417.67,138.58 L418.50,139.25 L419.32,139.92 L420.15,140.57 L420.98,141.23 L421.82,141.87 L422.66,142.51 L423.51,143.15 L424.36,143.78 L425.21,144.40 L426.07,145.02 L426.93,145.63 L427.80,146.23 L428.67,146.83 L429.54,147.42 L430.41,148.01 L431.29,148.59 L432.18,149.16 L433.06,149.73 L433.95,150.29 L434.85,150.84 L435.74,151.39 L436.64,151.93 L437.55,152.47 L438.45,153.00 L439.36,153.52 L440.28,154.03 L441.19,154.54 L442.11,155.04 L443.03,155.54 L443.96,156.03 L444.89,156.51 L445.82,156.99 L446.75,157.46 L447.69,157.93 L448.62,158.39 L449.57,158.84 L450.51,159.30 L451.46,159.75 L452.40,160.19 L453.36,160.63 L454.31,161.06 L455.26,161.50 L456.22,161.93 L457.18,162.35 L458.14,162.77 L459.11,163.19 L460.07,163.61 L461.04,164.02 L462.01,164.44 L462.98,164.85 L463.95,165.25 L464.93,165.66 L465.90,166.06 L466.88,166.47 L467.86,166.87 L468.84,167.27 L469.82,167.67 L470.81,168.07 L471.79,168.47 L472.78,168.87 L473.76,169.27 L474.75,169.67 L475.74,170.07 L476.73,170.46 L477.72,170.86 L478.71,171.26 L479.70,171.66 L480.70,172.06 L481.69,172.46 L482.68,172.86 L483.68,173.26 L484.67,173.66 L485.67,174.06 L486.67,174.46 L487.66,174.87 L488.66,175.27 L489.65,175.68 L490.65,176.09 L491.65,176.50 L492.65,176.91 L493.64,177.32 L494.64,177.73 L495.64,178.15 L496.63,178.56 L497.63,178.98 L498.63,179.40 L499.62,179.82 L500.62,180.25 L501.61,180.67 L502.61,181.10 L503.60,181.53 L504.60,181.96 L505.59,182.39 L506.59,182.82 L507.58,183.25 L508.58,183.68 L509.57,184.11 L510.57,184.54 L511.56,184.97 L512.55,185.40 L513.55,185.84 L514.54,186.27 L515.54,186.70 L516.53,187.13 L517.53,187.56 L518.52,187.99 L519.52,188.41 L520.51,188.84 L521.50,189.27 L522.50,189.69 L523.50,190.11 L524.49,190.53 L525.49,190.95 L526.48,191.37 L527.48,191.78 L528.47,192.20 L529.47,192.61 L530.47,193.02 L531.46,193.42 L532.46,193.82 L533.46,194.22 L534.46,194.62 L535.45,195.02 L536.45,195.41 L537.45,195.79 L538.45,196.18 L539.45,196.56 L540.45,196.94 L541.45,197.31 L542.45,197.68 L543.45,198.04 L544.46,198.40 L545.46,198.76 L546.46,199.11 L547.46,199.46 L548.47,199.80 L549.47,200.14 L550.48,200.47 L551.48,200.80 L552.49,201.12 L553.50,201.43 L554.51,201.74 L555.51,202.05 L556.52,202.35 L557.53,202.64 L558.54,202.93 L559.55,203.21 L560.57,203.48 L561.58,203.75 L562.59,204.01 L563.61,204.27 L564.62,204.51 L565.64,204.75 L566.65,204.99 L567.67,205.21 L568.69,205.43 L569.71,205.64 L570.73,205.85 L571.75,206.04 L572.77,206.23 L573.79,206.41 L574.82,206.58 L575.84,206.74 L576.87,206.90 L577.89,207.04 L578.92,207.18 L579.95,207.31 L580.98,207.43 L582.01,207.54 L583.04,207.64 L584.08,207.73 L585.11,207.81 L586.15,207.89 L587.18,207.95 L588.22,208.00 L589.26,208.04 L590.30,208.08 L591.34,208.10 L592.38,208.11 L593.43,208.11 L593.9,208.11 L593.9,257.1 L352.2,257.1 Z" fill="url(#st2)"/>
</g>
<g clip-path="url(#c2)" fill="none" stroke-linecap="butt">
<path d="M352.10,228.87 L356.21,229.15 L360.31,229.42 L364.42,229.70 L368.53,229.99 L372.63,230.28 L376.74,230.57 L380.85,230.86 L384.95,231.16 L389.06,231.47 L393.17,231.77 L397.27,232.08 L401.38,232.39 L405.49,232.70 L409.59,233.02 L413.70,233.34 L417.81,233.65 L421.92,233.97 L426.02,234.29 L430.13,234.61 L434.24,234.93 L438.34,235.26 L442.45,235.58 L446.56,235.90 L450.66,236.22 L454.77,236.54 L458.88,236.86 L462.98,237.18 L467.09,237.49 L471.20,237.81 L475.30,238.12 L479.41,238.43 L483.52,238.74 L487.62,239.04 L491.73,239.34 L495.84,239.64 L499.94,239.94 L504.05,240.23 L508.16,240.52 L512.26,240.80 L516.37,241.08 L520.48,241.36 L524.58,241.63 L528.69,241.89 L532.80,242.15 L536.91,242.41 L541.01,242.65 L545.12,242.90 L549.23,243.13 L553.33,243.36 L557.44,243.58 L561.55,243.80 L565.65,244.01 L569.76,244.21 L573.87,244.40 L577.97,244.59 L582.08,244.76 L586.19,244.93 L590.29,245.09 L594.40,245.24" stroke="#000" stroke-width="1.1" stroke-dasharray="4.2 4.06" stroke-dashoffset="1.3"/>
<path d="M352.10,231.75 L356.21,231.98 L360.31,232.22 L364.42,232.46 L368.53,232.71 L372.63,232.96 L376.74,233.22 L380.85,233.47 L384.95,233.74 L389.06,234.00 L393.17,234.27 L397.27,234.54 L401.38,234.82 L405.49,235.09 L409.59,235.37 L413.70,235.65 L417.81,235.93 L421.92,236.22 L426.02,236.50 L430.13,236.79 L434.24,237.07 L438.34,237.36 L442.45,237.65 L446.56,237.94 L450.66,238.22 L454.77,238.51 L458.88,238.80 L462.98,239.08 L467.09,239.37 L471.20,239.65 L475.30,239.93 L479.41,240.21 L483.52,240.49 L487.62,240.77 L491.73,241.04 L495.84,241.32 L499.94,241.58 L504.05,241.85 L508.16,242.11 L512.26,242.37 L516.37,242.63 L520.48,242.88 L524.58,243.13 L528.69,243.37 L532.80,243.61 L536.91,243.85 L541.01,244.08 L545.12,244.30 L549.23,244.52 L553.33,244.73 L557.44,244.94 L561.55,245.14 L565.65,245.33 L569.76,245.52 L573.87,245.70 L577.97,245.88 L582.08,246.05 L586.19,246.21 L590.29,246.36 L594.40,246.50" stroke="#000" stroke-width="1.1" stroke-dasharray="4.2 4.06" stroke-dashoffset="1.3"/>
<path d="M352.10,190.27 L356.21,190.71 L360.31,191.19 L364.42,191.69 L368.53,192.21 L372.63,192.76 L376.74,193.33 L380.85,193.92 L384.95,194.54 L389.06,195.17 L393.17,195.83 L397.27,196.50 L401.38,197.19 L405.49,197.90 L409.59,198.62 L413.70,199.35 L417.81,200.10 L421.92,200.86 L426.02,201.63 L430.13,202.41 L434.24,203.20 L438.34,203.99 L442.45,204.80 L446.56,205.61 L450.66,206.42 L454.77,207.24 L458.88,208.06 L462.98,208.88 L467.09,209.71 L471.20,210.53 L475.30,211.35 L479.41,212.17 L483.52,212.99 L487.62,213.80 L491.73,214.60 L495.84,215.40 L499.94,216.20 L504.05,216.98 L508.16,217.75 L512.26,218.52 L516.37,219.27 L520.48,220.01 L524.58,220.73 L528.69,221.44 L532.80,222.14 L536.91,222.82 L541.01,223.48 L545.12,224.12 L549.23,224.75 L553.33,225.35 L557.44,225.93 L561.55,226.49 L565.65,227.02 L569.76,227.53 L573.87,228.01 L577.97,228.47 L582.08,228.89 L586.19,229.29 L590.29,229.66 L594.40,230.00" stroke="#000" stroke-width="1.3" stroke-dasharray="1.5 1.67"/>
<path d="M352.10,197.35 L356.21,197.85 L360.31,198.36 L364.42,198.88 L368.53,199.41 L372.63,199.96 L376.74,200.52 L380.85,201.08 L384.95,201.66 L389.06,202.25 L393.17,202.85 L397.27,203.46 L401.38,204.07 L405.49,204.69 L409.59,205.32 L413.70,205.96 L417.81,206.60 L421.92,207.25 L426.02,207.91 L430.13,208.56 L434.24,209.23 L438.34,209.89 L442.45,210.56 L446.56,211.23 L450.66,211.90 L454.77,212.58 L458.88,213.25 L462.98,213.93 L467.09,214.60 L471.20,215.27 L475.30,215.95 L479.41,216.62 L483.52,217.28 L487.62,217.95 L491.73,218.61 L495.84,219.26 L499.94,219.92 L504.05,220.56 L508.16,221.20 L512.26,221.84 L516.37,222.47 L520.48,223.09 L524.58,223.70 L528.69,224.30 L532.80,224.90 L536.91,225.48 L541.01,226.06 L545.12,226.62 L549.23,227.17 L553.33,227.71 L557.44,228.24 L561.55,228.76 L565.65,229.26 L569.76,229.75 L573.87,230.23 L577.97,230.69 L582.08,231.13 L586.19,231.56 L590.29,231.97 L594.40,232.36" stroke="#000" stroke-width="1.3" stroke-dasharray="1.5 1.67"/>
<path d="M352.10,204.31 L354.14,204.41 L356.17,204.52 L358.21,204.64 L360.24,204.76 L362.28,204.89 L364.32,205.03 L366.35,205.17 L368.39,205.32 L370.43,205.48 L372.46,205.64 L374.50,205.82 L376.53,205.99 L378.57,206.18 L380.61,206.37 L382.64,206.56 L384.68,206.77 L386.71,206.97 L388.75,207.19 L390.79,207.41 L392.82,207.63 L394.86,207.86 L396.89,208.10 L398.93,208.34 L400.97,208.58 L403.00,208.83 L405.04,209.09 L407.08,209.35 L409.11,209.61 L411.15,209.88 L413.18,210.15 L415.22,210.43 L417.26,210.71 L419.29,210.99 L421.33,211.28 L423.36,211.57 L425.40,211.87 L427.44,212.17 L429.47,212.47 L431.51,212.78 L433.55,213.08 L435.58,213.39 L437.62,213.71 L439.65,214.02 L441.69,214.34 L443.73,214.66 L445.76,214.99 L447.80,215.31 L449.83,215.64 L451.87,215.97 L453.91,216.30 L455.94,216.63 L457.98,216.97 L460.02,217.30 L462.05,217.64 L464.09,217.98 L466.12,218.32 L468.16,218.66 L470.20,219.00 L472.23,219.34 L474.27,219.68 L476.30,220.02 L478.34,220.37 L480.38,220.71 L482.41,221.05 L484.45,221.39 L486.48,221.74 L488.52,222.08 L490.56,222.42 L492.59,222.76 L494.63,223.10 L496.67,223.44 L498.70,223.78 L500.74,224.12 L502.77,224.46 L504.81,224.79 L506.85,225.12 L508.88,225.46 L510.92,225.79 L512.95,226.12 L514.99,226.44 L517.03,226.77 L519.06,227.09 L521.10,227.41 L523.14,227.73 L525.17,228.04 L527.21,228.35 L529.24,228.66 L531.28,228.97 L533.32,229.28 L535.35,229.58 L537.39,229.87 L539.42,230.17 L541.46,230.46 L543.50,230.74 L545.53,231.03 L547.57,231.31 L549.61,231.58 L551.64,231.85 L553.68,232.12 L555.71,232.38 L557.75,232.64 L559.79,232.89 L561.82,233.14 L563.86,233.38 L565.89,233.62 L567.93,233.86 L569.97,234.08 L572.00,234.31 L574.04,234.52 L576.07,234.73 L578.11,234.94 L580.15,235.14 L582.18,235.33 L584.22,235.52 L586.26,235.70 L588.29,235.88 L590.33,236.05 L592.36,236.21 L594.40,236.36" stroke="#ff1a1a" stroke-width="1.25"/>
<path d="M352.10,186.71 L354.14,187.05 L356.17,187.40 L358.21,187.75 L360.24,188.11 L362.28,188.46 L364.32,188.82 L366.35,189.18 L368.39,189.54 L370.43,189.90 L372.46,190.27 L374.50,190.63 L376.53,191.00 L378.57,191.37 L380.61,191.75 L382.64,192.12 L384.68,192.50 L386.71,192.88 L388.75,193.26 L390.79,193.64 L392.82,194.03 L394.86,194.42 L396.89,194.81 L398.93,195.20 L400.97,195.59 L403.00,195.98 L405.04,196.38 L407.08,196.78 L409.11,197.18 L411.15,197.58 L413.18,197.99 L415.22,198.39 L417.26,198.80 L419.29,199.21 L421.33,199.62 L423.36,200.03 L425.40,200.44 L427.44,200.86 L429.47,201.28 L431.51,201.69 L433.55,202.11 L435.58,202.54 L437.62,202.96 L439.65,203.38 L441.69,203.81 L443.73,204.24 L445.76,204.67 L447.80,205.10 L449.83,205.53 L451.87,205.97 L453.91,206.40 L455.94,206.84 L457.98,207.28 L460.02,207.72 L462.05,208.16 L464.09,208.60 L466.12,209.04 L468.16,209.49 L470.20,209.94 L472.23,210.38 L474.27,210.83 L476.30,211.28 L478.34,211.73 L480.38,212.19 L482.41,212.64 L484.45,213.10 L486.48,213.55 L488.52,214.01 L490.56,214.47 L492.59,214.93 L494.63,215.39 L496.67,215.85 L498.70,216.31 L500.74,216.78 L502.77,217.24 L504.81,217.71 L506.85,218.18 L508.88,218.64 L510.92,219.11 L512.95,219.58 L514.99,220.05 L517.03,220.53 L519.06,221.00 L521.10,221.47 L523.14,221.95 L525.17,222.42 L527.21,222.90 L529.24,223.38 L531.28,223.86 L533.32,224.34 L535.35,224.82 L537.39,225.30 L539.42,225.78 L541.46,226.26 L543.50,226.74 L545.53,227.23 L547.57,227.71 L549.61,228.20 L551.64,228.68 L553.68,229.17 L555.71,229.65 L557.75,230.14 L559.79,230.63 L561.82,231.12 L563.86,231.61 L565.89,232.10 L567.93,232.59 L569.97,233.08 L572.00,233.57 L574.04,234.06 L576.07,234.55 L578.11,235.05 L580.15,235.54 L582.18,236.03 L584.22,236.53 L586.26,237.02 L588.29,237.52 L590.33,238.01 L592.36,238.51 L594.40,239.01" stroke="#00cdd4" stroke-width="1.25"/>
<path d="M352.10,139.96 L354.14,140.40 L356.18,140.84 L358.21,141.31 L360.25,141.78 L362.29,142.26 L364.33,142.76 L366.36,143.27 L368.40,143.78 L370.44,144.31 L372.48,144.85 L374.52,145.39 L376.55,145.95 L378.59,146.52 L380.63,147.09 L382.67,147.67 L384.71,148.26 L386.74,148.86 L388.78,149.47 L390.82,150.08 L392.86,150.70 L394.89,151.33 L396.93,151.96 L398.97,152.60 L401.01,153.25 L403.05,153.90 L405.08,154.56 L407.12,155.22 L409.16,155.89 L411.20,156.57 L413.23,157.24 L415.27,157.93 L417.31,158.62 L419.35,159.31 L421.39,160.00 L423.42,160.70 L425.46,161.41 L427.50,162.12 L429.54,162.83 L431.57,163.54 L433.61,164.26 L435.65,164.98 L437.69,165.70 L439.73,166.42 L441.76,167.15 L443.80,167.88 L445.84,168.61 L447.88,169.34 L449.92,170.07 L451.95,170.81 L453.99,171.55 L456.03,172.29 L458.07,173.03 L460.10,173.77 L462.14,174.51 L464.18,175.25 L466.22,175.99 L468.26,176.74 L470.29,177.48 L472.33,178.23 L474.37,178.97 L476.41,179.72 L478.44,180.46 L480.48,181.21 L482.52,181.95 L484.56,182.70 L486.60,183.45 L488.63,184.19 L490.67,184.94 L492.71,185.68 L494.75,186.43 L496.78,187.17 L498.82,187.91 L500.86,188.66 L502.90,189.40 L504.94,190.14 L506.97,190.88 L509.01,191.63 L511.05,192.37 L513.09,193.11 L515.13,193.85 L517.16,194.59 L519.20,195.32 L521.24,196.06 L523.28,196.80 L525.31,197.54 L527.35,198.27 L529.39,199.01 L531.43,199.74 L533.47,200.48 L535.50,201.21 L537.54,201.94 L539.58,202.68 L541.62,203.41 L543.65,204.14 L545.69,204.88 L547.73,205.61 L549.77,206.34 L551.81,207.07 L553.84,207.80 L555.88,208.54 L557.92,209.27 L559.96,210.00 L561.99,210.73 L564.03,211.47 L566.07,212.20 L568.11,212.94 L570.15,213.67 L572.18,214.41 L574.22,215.15 L576.26,215.88 L578.30,216.62 L580.34,217.36 L582.37,218.11 L584.41,218.85 L586.45,219.60 L588.49,220.34 L590.52,221.09 L592.56,221.85 L594.60,222.60" stroke="#ff00ff" stroke-width="1.25"/>
<path d="M352.10,109.84 L354.14,110.39 L356.18,110.95 L358.21,111.52 L360.25,112.11 L362.29,112.71 L364.33,113.33 L366.36,113.95 L368.40,114.59 L370.44,115.24 L372.48,115.90 L374.52,116.57 L376.55,117.26 L378.59,117.95 L380.63,118.65 L382.67,119.37 L384.71,120.09 L386.74,120.82 L388.78,121.56 L390.82,122.31 L392.86,123.06 L394.89,123.83 L396.93,124.60 L398.97,125.38 L401.01,126.16 L403.05,126.95 L405.08,127.75 L407.12,128.56 L409.16,129.37 L411.20,130.18 L413.23,131.00 L415.27,131.83 L417.31,132.66 L419.35,133.49 L421.39,134.33 L423.42,135.17 L425.46,136.02 L427.50,136.87 L429.54,137.72 L431.57,138.57 L433.61,139.43 L435.65,140.29 L437.69,141.15 L439.73,142.01 L441.76,142.88 L443.80,143.74 L445.84,144.61 L447.88,145.47 L449.92,146.34 L451.95,147.21 L453.99,148.08 L456.03,148.94 L458.07,149.81 L460.10,150.68 L462.14,151.54 L464.18,152.41 L466.22,153.27 L468.26,154.13 L470.29,154.99 L472.33,155.85 L474.37,156.70 L476.41,157.56 L478.44,158.41 L480.48,159.25 L482.52,160.10 L484.56,160.94 L486.60,161.78 L488.63,162.61 L490.67,163.44 L492.71,164.27 L494.75,165.09 L496.78,165.91 L498.82,166.73 L500.86,167.54 L502.90,168.34 L504.94,169.14 L506.97,169.94 L509.01,170.73 L511.05,171.51 L513.09,172.29 L515.13,173.06 L517.16,173.83 L519.20,174.59 L521.24,175.35 L523.28,176.10 L525.31,176.84 L527.35,177.57 L529.39,178.30 L531.43,179.03 L533.47,179.74 L535.50,180.45 L537.54,181.15 L539.58,181.84 L541.62,182.53 L543.65,183.21 L545.69,183.88 L547.73,184.54 L549.77,185.20 L551.81,185.84 L553.84,186.48 L555.88,187.11 L557.92,187.73 L559.96,188.35 L561.99,188.95 L564.03,189.55 L566.07,190.14 L568.11,190.72 L570.15,191.29 L572.18,191.85 L574.22,192.40 L576.26,192.94 L578.30,193.48 L580.34,194.00 L582.37,194.52 L584.41,195.02 L586.45,195.52 L588.49,196.01 L590.52,196.49 L592.56,196.95 L594.60,197.41" stroke="#2a9836" stroke-width="1.25"/>
<path d="M352.10,49.13 L354.14,49.75 L356.18,50.39 L358.21,51.06 L360.25,51.75 L362.29,52.47 L364.33,53.22 L366.36,53.99 L368.40,54.78 L370.44,55.60 L372.48,56.44 L374.52,57.30 L376.55,58.19 L378.59,59.09 L380.63,60.01 L382.67,60.95 L384.71,61.91 L386.74,62.89 L388.78,63.89 L390.82,64.90 L392.86,65.93 L394.89,66.97 L396.93,68.03 L398.97,69.10 L401.01,70.18 L403.05,71.28 L405.08,72.39 L407.12,73.51 L409.16,74.65 L411.20,75.79 L413.23,76.94 L415.27,78.11 L417.31,79.28 L419.35,80.46 L421.39,81.65 L423.42,82.84 L425.46,84.05 L427.50,85.26 L429.54,86.47 L431.57,87.69 L433.61,88.92 L435.65,90.15 L437.69,91.39 L439.73,92.62 L441.76,93.87 L443.80,95.11 L445.84,96.36 L447.88,97.60 L449.92,98.85 L451.95,100.11 L453.99,101.36 L456.03,102.61 L458.07,103.86 L460.10,105.11 L462.14,106.36 L464.18,107.61 L466.22,108.86 L468.26,110.10 L470.29,111.35 L472.33,112.59 L474.37,113.82 L476.41,115.06 L478.44,116.29 L480.48,117.52 L482.52,118.74 L484.56,119.96 L486.60,121.17 L488.63,122.38 L490.67,123.58 L492.71,124.78 L494.75,125.97 L496.78,127.15 L498.82,128.33 L500.86,129.50 L502.90,130.67 L504.94,131.83 L506.97,132.98 L509.01,134.12 L511.05,135.25 L513.09,136.38 L515.13,137.50 L517.16,138.61 L519.20,139.71 L521.24,140.81 L523.28,141.89 L525.31,142.97 L527.35,144.04 L529.39,145.09 L531.43,146.14 L533.47,147.18 L535.50,148.21 L537.54,149.23 L539.58,150.24 L541.62,151.24 L543.65,152.23 L545.69,153.21 L547.73,154.18 L549.77,155.14 L551.81,156.09 L553.84,157.03 L555.88,157.96 L557.92,158.88 L559.96,159.79 L561.99,160.69 L564.03,161.57 L566.07,162.45 L568.11,163.32 L570.15,164.17 L572.18,165.02 L574.22,165.86 L576.26,166.68 L578.30,167.50 L580.34,168.30 L582.37,169.09 L584.41,169.88 L586.45,170.65 L588.49,171.42 L590.52,172.17 L592.56,172.91 L594.60,173.65" stroke="#0c0cff" stroke-width="1.25"/>
<path d="M352.10,247.51 L353.34,247.69 L354.57,247.87 L355.81,248.05 L357.05,248.23 L358.29,248.41 L359.52,248.59 L360.76,248.77 L362.00,248.94 L363.24,249.12 L364.47,249.29 L365.71,249.47 L366.95,249.64 L368.18,249.81 L369.42,249.98 L370.66,250.15 L371.90,250.32 L373.13,250.49 L374.37,250.66 L375.61,250.83 L376.85,251.00 L378.08,251.17 L379.32,251.33 L380.56,251.50 L381.79,251.66 L383.03,251.83 L384.27,251.99 L385.51,252.15 L386.74,252.32 L387.98,252.48 L389.22,252.64 L390.46,252.80 L391.69,252.96 L392.93,253.12 L394.17,253.28 L395.41,253.44 L396.64,253.60 L397.88,253.76 L399.12,253.91 L400.35,254.07 L401.59,254.23 L402.83,254.38 L404.07,254.54 L405.30,254.69 L406.54,254.85 L407.78,255.00 L409.02,255.16 L410.25,255.31 L411.49,255.46 L412.73,255.62 L413.96,255.77 L415.20,255.92 L416.44,256.06 L417.68,256.21 L418.91,256.35 L420.15,256.50 L421.39,256.64 L422.63,256.78 L423.86,256.93 L425.10,257.07" stroke="#ffa810" stroke-width="1.35"/>
<path d="M425.40,257.07 L428.27,256.75 L431.14,256.42 L434.00,256.07 L436.87,255.70 L439.74,255.31 L442.61,254.90 L445.47,254.47 L448.34,254.02 L451.21,253.56 L454.08,253.09 L456.95,252.62 L459.81,252.14 L462.68,251.67 L465.55,251.20 L468.42,250.74 L471.28,250.29 L474.15,249.85 L477.02,249.41 L479.89,248.97 L482.76,248.53 L485.62,248.10 L488.49,247.68 L491.36,247.28 L494.23,246.90 L497.09,246.53 L499.96,246.17 L502.83,245.82 L505.70,245.49 L508.57,245.16 L511.43,244.83 L514.30,244.50 L517.17,244.18 L520.04,243.85 L522.91,243.52 L525.77,243.18 L528.64,242.83 L531.51,242.47 L534.38,242.10 L537.24,241.70 L540.11,241.29 L542.98,240.86 L545.85,240.42 L548.72,239.99 L551.58,239.56 L554.45,239.15 L557.32,238.75 L560.19,238.39 L563.05,238.04 L565.92,237.70 L568.79,237.37 L571.66,237.05 L574.53,236.77 L577.39,236.52 L580.26,236.31 L583.13,236.12 L586.00,235.95 L588.86,235.80 L591.73,235.68 L594.60,235.58" stroke="#ffa810" stroke-width="1.35"/>
</g>
<path d="M413.00,257.1 V76.50" stroke="#000" stroke-width="1.9" fill="none"/>
<path d="M502.00,257.1 V130.00" stroke="#000" stroke-width="1.9" fill="none"/>
<path d="M561.00,257.1 V160.10" stroke="#000" stroke-width="1.9" fill="none"/>
<rect x="352.2" y="8.1" width="241.70" height="249.00" fill="none" stroke="#000" stroke-width="1.5"/>
<path d="M50.6,255.0 L70,255.4 L90,255.7 L110,255.8 L290.7,255.8" stroke="#ffa810" stroke-width="1.4" fill="none"/>
<g opacity="0.995">
<g font-family="Liberation Serif, serif" font-size="14.6" fill="#000">
<text x="87.4" y="274.8" text-anchor="middle">18</text>
<text x="135.7" y="274.8" text-anchor="middle">20</text>
<text x="184.0" y="274.8" text-anchor="middle">22</text>
<text x="232.3" y="274.8" text-anchor="middle">24</text>
<text x="280.6" y="274.8" text-anchor="middle">26</text>
<text x="40.6" y="259.7" text-anchor="end">0</text>
<text x="40.6" y="176.7" text-anchor="end">5</text>
<text x="40.6" y="93.7" text-anchor="end">10</text>
<text x="40.6" y="10.7" text-anchor="end">15</text>
<text x="389.8" y="274.8" text-anchor="middle">18</text>
<text x="438.1" y="274.8" text-anchor="middle">20</text>
<text x="486.4" y="274.8" text-anchor="middle">22</text>
<text x="534.8" y="274.8" text-anchor="middle">24</text>
<text x="583.1" y="274.8" text-anchor="middle">26</text>
<text x="343.1" y="259.7" text-anchor="end">0</text>
<text x="343.1" y="176.7" text-anchor="end">5</text>
<text x="343.1" y="93.7" text-anchor="end">10</text>
<text x="343.1" y="10.7" text-anchor="end">15</text>
</g>
<g fill="#000">
<text x="132.6" y="301.5" font-family="Liberation Serif, serif" font-size="17" font-style="italic">q</text>
<text x="140.6" y="295.4" font-family="Liberation Serif, serif" font-size="10" font-style="italic">2</text>
<text x="157.4" y="301.2" font-family="Liberation Sans, sans-serif" font-size="16">[</text>
<text x="162.6" y="301.5" font-family="Liberation Serif, serif" font-size="17">GeV</text>
<text x="195.5" y="295.5" font-family="Liberation Sans, sans-serif" font-size="11.5">2</text>
<text x="203.7" y="301.2" font-family="Liberation Sans, sans-serif" font-size="16">]</text>
</g>
<g fill="#000">
<text x="435.2" y="301.5" font-family="Liberation Serif, serif" font-size="17" font-style="italic">q</text>
<text x="443.2" y="295.4" font-family="Liberation Serif, serif" font-size="10" font-style="italic">2</text>
<text x="460.0" y="301.2" font-family="Liberation Sans, sans-serif" font-size="16">[</text>
<text x="465.2" y="301.5" font-family="Liberation Serif, serif" font-size="17">GeV</text>
<text x="498.1" y="295.5" font-family="Liberation Sans, sans-serif" font-size="11.5">2</text>
<text x="506.3" y="301.2" font-family="Liberation Sans, sans-serif" font-size="16">]</text>
</g>
<g transform="translate(20.0,169.6) rotate(-90)" fill="#000">
<path d="M1.0,-0.6 L5.9,-11.9" fill="none" stroke="#000" stroke-width="1.9"/><path d="M5.6,-12.6 L11.3,-0.4" fill="none" stroke="#000" stroke-width="1.0"/><path d="M0.2,-0.7 L11.8,-0.7" fill="none" stroke="#000" stroke-width="1.4"/>
<path d="M23.1,-10.5 C22.9,-11.8 21.5,-12.2 20.6,-11.5 C19.5,-10.7 19.2,-9.0 18.8,-7.0 L17.3,-0.3 C16.8,1.7 16.2,3.1 14.9,3.2 C14.1,3.2 13.6,2.7 13.6,2.0 M16.0,-6.5 L21.0,-6.5" fill="none" stroke="#000" stroke-width="0.85" stroke-linecap="round"/><path d="M19.0,-8.2 L17.2,0.4" fill="none" stroke="#000" stroke-width="1.5" stroke-linecap="round"/>
<text x="20.5" y="3.9" font-family="Liberation Serif, serif" font-size="12.5">+</text>
<text x="27.3" y="-7.2" font-family="Liberation Serif, serif" font-size="11.5" font-style="italic">B&#960;</text>
<path d="M53.8,-12.5 H50.3 V2.4 H53.8 M68.8,-12.5 H72.3 V2.4 H68.8" fill="none" stroke="#000" stroke-width="1.15"/>
<circle cx="57.5" cy="-9.0" r="2.45" fill="none" stroke="#000" stroke-width="1.05"/><circle cx="65.2" cy="-3.0" r="2.45" fill="none" stroke="#000" stroke-width="1.05"/><path d="M58.6,-0.1 L64.2,-12.0" stroke="#000" stroke-width="1.0" fill="none"/>
</g>
<g transform="translate(322.6,169.6) rotate(-90)" fill="#000">
<path d="M1.0,-0.6 L5.9,-11.9" fill="none" stroke="#000" stroke-width="1.9"/><path d="M5.6,-12.6 L11.3,-0.4" fill="none" stroke="#000" stroke-width="1.0"/><path d="M0.2,-0.7 L11.8,-0.7" fill="none" stroke="#000" stroke-width="1.4"/>
<path d="M23.1,-10.5 C22.9,-11.8 21.5,-12.2 20.6,-11.5 C19.5,-10.7 19.2,-9.0 18.8,-7.0 L17.3,-0.3 C16.8,1.7 16.2,3.1 14.9,3.2 C14.1,3.2 13.6,2.7 13.6,2.0 M16.0,-6.5 L21.0,-6.5" fill="none" stroke="#000" stroke-width="0.85" stroke-linecap="round"/><path d="M19.0,-8.2 L17.2,0.4" fill="none" stroke="#000" stroke-width="1.5" stroke-linecap="round"/>
<text x="21.2" y="3.6" font-family="Liberation Serif, serif" font-size="11.5">0</text>
<text x="27.3" y="-7.2" font-family="Liberation Serif, serif" font-size="11.5" font-style="italic">B&#960;</text>
<path d="M53.8,-12.5 H50.3 V2.4 H53.8 M68.8,-12.5 H72.3 V2.4 H68.8" fill="none" stroke="#000" stroke-width="1.15"/>
<circle cx="57.5" cy="-9.0" r="2.45" fill="none" stroke="#000" stroke-width="1.05"/><circle cx="65.2" cy="-3.0" r="2.45" fill="none" stroke="#000" stroke-width="1.05"/><path d="M58.6,-0.1 L64.2,-12.0" stroke="#000" stroke-width="1.0" fill="none"/>
</g>
<path d="M624.1,25.4 H628.4 M632.4,25.4 H637.0" stroke="#000" stroke-width="1" fill="none"/>
<path d="M624.15,45.25 H638.5" stroke="#000" stroke-width="1.25" stroke-dasharray="1.5 1.68" fill="none"/>
<path d="M624.2,64.9 H638.4" stroke="#ffa810" stroke-width="1.15" fill="none"/>
<path d="M624.2,84.6 H638.4" stroke="#ff1a1a" stroke-width="1.15" fill="none"/>
<path d="M624.2,104.3 H638.4" stroke="#ff00ff" stroke-width="1.15" fill="none"/>
<path d="M624.2,123.9 H638.4" stroke="#00cdd4" stroke-width="1.15" fill="none"/>
<path d="M624.2,143.4 H638.4" stroke="#0c0cff" stroke-width="1.15" fill="none"/>
<path d="M624.2,163.0 H638.4" stroke="#2a9836" stroke-width="1.15" fill="none"/>
<g font-family="Liberation Serif, serif" font-size="15" fill="#000" word-spacing="1.2">
<text x="646.4" y="27.6" >varying</text>
<text x="695.8" y="27.6" font-style="italic">g</text>
<text x="646.4" y="47.5" >varying</text>
<path transform="translate(693.7,47.5) scale(0.885)" d="M9.7,-10.5 C9.5,-11.8 8.1,-12.2 7.2,-11.5 C6.1,-10.7 5.8,-9.0 5.4,-7.0 L3.9,-0.3 C3.4,1.7 2.8,3.1 1.5,3.2 C0.7,3.2 0.2,2.7 0.2,2.0 M2.6,-6.5 L7.6,-6.5 M5.6,-8.2 L3.8,0.4" fill="none" stroke="#000" stroke-width="1.05" stroke-linecap="round"/>
<text x="700.5" y="50.5" font-size="13">&#960;</text>
<text x="646.0" y="67.0" >omitting zero momentum</text>
<text x="646.0" y="88.5" >omitting</text>
<text x="700.9" y="88.5" font-style="italic">a</text>
<text x="709.4" y="82.8" font-size="9">2</text>
<text x="717.5" y="88.5" >term</text>
<text x="646.0" y="107.8" >omitting</text>
<text x="701.7" y="107.8" font-style="italic">M</text>
<text x="714.8" y="102.1" font-size="9">2</text>
<text x="713.6" y="111.6" font-size="11">&#960;</text>
<text x="726.5" y="107.8" >term</text>
<text x="646.0" y="127.7" >omitting</text>
<text x="700.9" y="127.7" font-style="italic">a</text>
<text x="709.4" y="122.0" font-size="9">2</text>
<text x="717.0" y="127.7" >and</text>
<text x="744.0" y="127.7" font-style="italic">M</text>
<text x="757.1" y="122.0" font-size="9">2</text>
<text x="755.9" y="131.5" font-size="11">&#960;</text>
<text x="768.3" y="127.7" >terms</text>
<text x="646.0" y="145.8" >analytic</text>
<text x="646.0" y="166.7" >analytic omitting</text>
<text x="752.6" y="166.7" font-style="italic">a</text>
<text x="760.6" y="161.0" font-size="9">2</text>
<text x="769.2" y="166.7" >term</text>
</g>
</g>
</svg>
</body></html>
